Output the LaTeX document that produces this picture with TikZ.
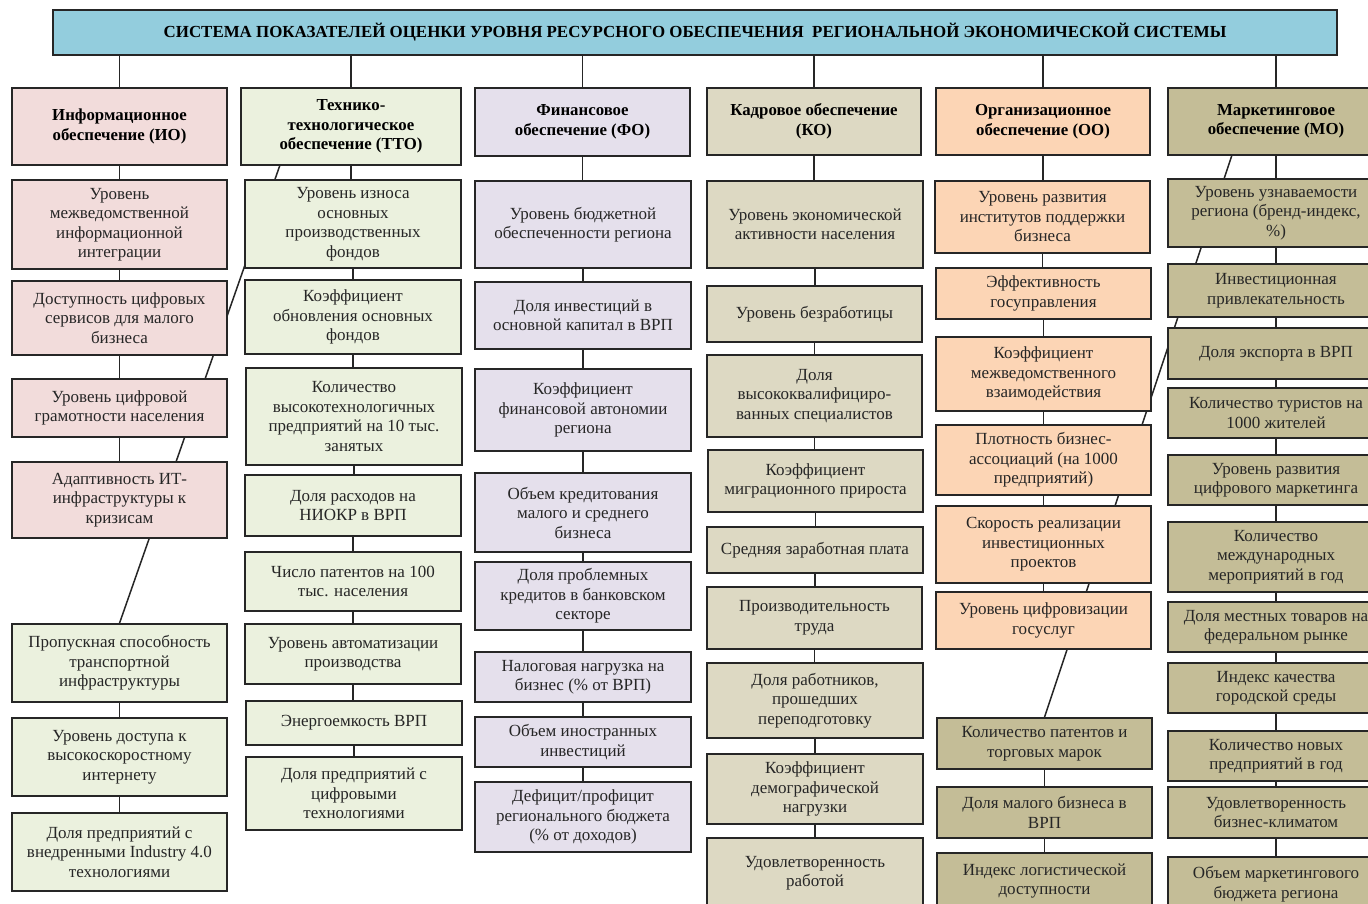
\documentclass[tikz,border=0pt]{standalone}
\usepackage{fontspec}
\setmainfont{Liberation Serif}
\definecolor{ctitle}{HTML}{93CDDD}
\definecolor{cio}{HTML}{F2DCDB}
\definecolor{ctto}{HTML}{EBF1DE}
\definecolor{cfo}{HTML}{E5E0EC}
\definecolor{cko}{HTML}{DDD9C3}
\definecolor{coo}{HTML}{FCD5B5}
\definecolor{cmo}{HTML}{C4BD97}
\pgfdeclarelayer{bg}
\pgfdeclarelayer{conn}
\pgfsetlayers{bg,conn,main}
\tikzset{
  bx/.style={draw=black!85, line width=1.5pt, align=center, inner sep=2pt,
    font=\fontsize{17}{19.5}\selectfont, text=black!85},
  hd/.style={bx, font=\bfseries\fontsize{16.8}{19.5}\selectfont, text=black},
  ttl/.style={bx, font=\bfseries\fontsize{16.9}{19.5}\selectfont, text=black},
  io/.style={bx, fill=cio}, ioh/.style={hd, fill=cio},
  tto/.style={bx, fill=ctto}, ttoh/.style={hd, fill=ctto},
  fo/.style={bx, fill=cfo}, foh/.style={hd, fill=cfo},
  ko/.style={bx, fill=cko}, koh/.style={hd, fill=cko},
  oo/.style={bx, fill=coo}, ooh/.style={hd, fill=coo},
  mo/.style={bx, fill=cmo}, moh/.style={hd, fill=cmo},
  ln/.style={draw=black!85, line width=1.5pt},
}
\newcommand\mybox[7]{\node[#6, minimum width={(#4-#2)*1pt}, minimum height={(#5-#3)*1pt}] (#1) at ({(#2+#4)/2},{(#3+#5)/2}) {#7};}
\begin{document}
\begin{tikzpicture}[x=1pt,y=-1pt]
\useasboundingbox (0,0) rectangle (1368,904);
\begin{pgfonlayer}{bg}
\fill[white] (0,0) rectangle (1368,904);
\end{pgfonlayer}
% title
\mybox{title}{53}{10}{1337}{55}{ttl,fill=ctitle}{СИСТЕМА ПОКАЗАТЕЛЕЙ ОЦЕНКИ УРОВНЯ РЕСУРСНОГО ОБЕСПЕЧЕНИЯ \ РЕГИОНАЛЬНОЙ ЭКОНОМИЧЕСКОЙ СИСТЕМЫ}
% headers
\mybox{ioh}{12}{88}{227}{165}{ioh}{Информационное\\обеспечение (ИО)}
\mybox{ttoh}{241}{88}{461}{165}{ttoh}{Технико-\\технологическое\\обеспечение (ТТО)}
\mybox{foh}{475}{88}{690}{156}{foh}{Финансовое\\обеспечение (ФО)}
\mybox{koh}{707}{88}{921}{155}{koh}{Кадровое обеспечение\\(КО)}
\mybox{ooh}{936}{88}{1150}{155}{ooh}{Организационное\\обеспечение (ОО)}
\mybox{moh}{1168}{88}{1384}{155}{moh}{Маркетинговое\\обеспечение (МО)}
% IO column
\mybox{io1}{12}{180}{227}{269}{io}{Уровень\\межведомственной\\информационной\\интеграции}
\mybox{io2}{12}{281}{227}{355}{io}{Доступность цифровых\\сервисов для малого\\бизнеса}
\mybox{io3}{12}{379}{227}{437}{io}{Уровень цифровой\\грамотности населения}
\mybox{io4}{12}{462}{227}{538}{io}{Адаптивность ИТ-\\инфраструктуры к\\кризисам}
\mybox{io5}{12}{624}{227}{702}{tto}{Пропускная способность\\транспортной\\инфраструктуры}
\mybox{io6}{12}{718}{227}{796}{tto}{Уровень доступа к\\высокоскоростному\\интернету}
\mybox{io7}{12}{813}{227}{891}{tto}{Доля предприятий с\\внедренными Industry 4.0\\технологиями}
% TTO column
\mybox{t1}{245}{180}{461}{268}{tto}{Уровень износа\\основных\\производственных\\фондов}
\mybox{t2}{245}{280}{461}{354}{tto}{Коэффициент\\обновления основных\\фондов}
\mybox{t3}{246}{368}{462}{465}{tto}{Количество\\высокотехнологичных\\предприятий на 10 тыс.\\занятых}
\mybox{t4}{245}{475}{461}{536}{tto}{Доля расходов на\\НИОКР в ВРП}
\mybox{t5}{245}{552}{461}{611}{tto}{Число патентов на 100\\тыс. населения}
\mybox{t6}{245}{624}{461}{684}{tto}{Уровень автоматизации\\производства}
\mybox{t7}{246}{701}{462}{745}{tto}{Энергоемкость ВРП}
\mybox{t8}{246}{757}{462}{830}{tto}{Доля предприятий с\\цифровыми\\технологиями}
% FO column
\mybox{f1}{475}{181}{691}{268}{fo}{Уровень бюджетной\\обеспеченности региона}
\mybox{f2}{475}{282}{691}{349}{fo}{Доля инвестиций в\\основной капитал в ВРП}
\mybox{f3}{475}{369}{691}{451}{fo}{Коэффициент\\финансовой автономии\\региона}
\mybox{f4}{475}{473}{691}{552}{fo}{Объем кредитования\\малого и среднего\\бизнеса}
\mybox{f5}{475}{562}{691}{630}{fo}{Доля проблемных\\кредитов в банковском\\секторе}
\mybox{f6}{475}{652}{691}{702}{fo}{Налоговая нагрузка на\\бизнес (\% от ВРП)}
\mybox{f7}{475}{717}{691}{767}{fo}{Объем иностранных\\инвестиций}
\mybox{f8}{475}{782}{691}{852}{fo}{Дефицит/профицит\\регионального бюджета\\(\% от доходов)}
% KO column
\mybox{k1}{707}{181}{923}{268}{ko}{Уровень экономической\\активности населения}
\mybox{k2}{707}{286}{922}{342}{ko}{Уровень безработицы}
\mybox{k3}{707}{355}{922}{437}{ko}{Доля\\высококвалифициро-\\ванных специалистов}
\mybox{k4}{708}{450}{923}{512}{ko}{Коэффициент\\миграционного прироста}
\mybox{k5}{707}{527}{923}{573}{ko}{Средняя заработная плата}
\mybox{k6}{707}{587}{922}{649}{ko}{Производительность\\труда}
\mybox{k7}{707}{663}{923}{738}{ko}{Доля работников,\\прошедших\\переподготовку}
\mybox{k8}{707}{754}{923}{824}{ko}{Коэффициент\\демографической\\нагрузки}
\mybox{k9}{707}{838}{923}{908}{ko}{Удовлетворенность\\работой}
% OO column
\mybox{o1}{935}{181}{1150}{253}{oo}{Уровень развития\\институтов поддержки\\бизнеса}
\mybox{o2}{936}{268}{1151}{319}{oo}{Эффективность\\госуправления}
\mybox{o3}{936}{337}{1151}{411}{oo}{Коэффициент\\межведомственного\\взаимодействия}
\mybox{o4}{936}{425}{1151}{495}{oo}{Плотность бизнес-\\ассоциаций (на 1000\\предприятий)}
\mybox{o5}{936}{506}{1151}{583}{oo}{Скорость реализации\\инвестиционных\\проектов}
\mybox{o6}{936}{592}{1151}{649}{oo}{Уровень цифровизации\\госуслуг}
\mybox{o7}{937}{718}{1152}{769}{mo}{Количество патентов и\\торговых марок}
\mybox{o8}{937}{787}{1152}{838}{mo}{Доля малого бизнеса в\\ВРП}
\mybox{o9}{937}{853}{1152}{909}{mo}{Индекс логистической\\доступности}
% MO column
\mybox{m1}{1168}{179}{1384}{247}{mo}{Уровень узнаваемости\\региона (бренд-индекс,\\\%)}
\mybox{m2}{1168}{264}{1384}{317}{mo}{Инвестиционная\\привлекательность}
\mybox{m3}{1168}{328}{1384}{379}{mo}{Доля экспорта в ВРП}
\mybox{m4}{1168}{388}{1384}{438}{mo}{Количество туристов на\\1000 жителей}
\mybox{m5}{1168}{455}{1384}{505}{mo}{Уровень развития\\цифрового маркетинга}
\mybox{m6}{1168}{522}{1384}{592}{mo}{Количество\\международных\\мероприятий в год}
\mybox{m7}{1168}{602}{1384}{652}{mo}{Доля местных товаров на\\федеральном рынке}
\mybox{m8}{1168}{663}{1384}{713}{mo}{Индекс качества\\городской среды}
\mybox{m9}{1168}{731}{1384}{781}{mo}{Количество новых\\предприятий в год}
\mybox{m10}{1168}{787}{1384}{838}{mo}{Удовлетворенность\\бизнес-климатом}
\mybox{m11}{1168}{857}{1384}{911}{mo}{Объем маркетингового\\бюджета региона}
% connectors
\coordinate (dA) at (280,165);
\coordinate (dB) at (1232,155);
\begin{pgfonlayer}{conn}
\foreach \h in {ioh,ttoh,foh,koh,ooh,moh}
  \draw[ln] (title.south -| \h.north) -- (\h.north);
\foreach \a/\b in {ioh/io1,io1/io2,io2/io3,io3/io4,io5/io6,io6/io7,
  ttoh/t1,t1/t2,t2/t3,t3/t4,t4/t5,t5/t6,t6/t7,t7/t8,
  foh/f1,f1/f2,f2/f3,f3/f4,f4/f5,f5/f6,f6/f7,f7/f8,
  koh/k1,k1/k2,k2/k3,k3/k4,k4/k5,k5/k6,k6/k7,k7/k8,k8/k9,
  ooh/o1,o1/o2,o2/o3,o3/o4,o4/o5,o5/o6,o7/o8,o8/o9,
  moh/m1,m1/m2,m2/m3,m3/m4,m4/m5,m5/m6,m6/m7,m7/m8,m8/m9,m9/m10,m10/m11}
  \draw[ln] (\a.south) -- (\a.south |- \b.north);
\draw[ln] (dA) -- (io5.north);
\draw[ln] (dB) -- (o7.north);
\end{pgfonlayer}
\end{tikzpicture}
\end{document}
